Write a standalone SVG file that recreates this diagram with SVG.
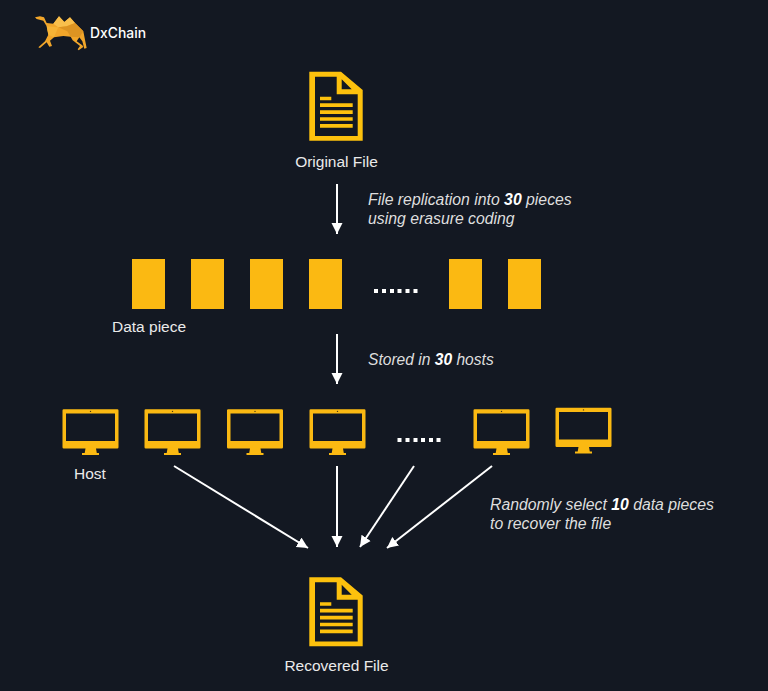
<svg xmlns="http://www.w3.org/2000/svg" width="768" height="691" viewBox="0 0 768 691">
<style>
text{font-family:"Liberation Sans",Arial,sans-serif;fill:#eaeaea;font-size:15.500px}
.note{font-style:italic;font-size:15.800px;fill:#dedede}
.note tspan.b{font-weight:bold;fill:#fff}
.piece{fill:#fbb912}
.conn{stroke:#fff;stroke-width:2;fill:none;marker-end:url(#head)}
.dots{fill:#fff}
</style>
<defs>
<marker id="head" markerUnits="userSpaceOnUse" markerWidth="13" markerHeight="13" refX="11" refY="6" orient="auto">
<path d="M0 0.500L11 6L0 11.500Z" fill="#fff"/>
</marker>
<g id="doc">
<path fill-rule="evenodd" fill="#fdc10d" d="M309.300 71.700H341L362.700 90V140.700H309.300ZM315 76.700V136H357.700V94.300H336.700V76.700ZM341.700 79.300V89.300H351.700Z"/>
<path fill="#fdc10d" d="M320 96.700h11.300v3.600h-11.300zM320 103.300h32.700v3.800h-32.700zM320 110.300h32.700v3.700h-32.700zM320 117.300h32.700v3.500h-32.700zM320 124h32.700v3.700h-32.700z"/>
</g>
<g id="monitor">
<path fill-rule="evenodd" fill="#fbb912" d="M63.700 409.300H117.300Q118.500 409.300 118.500 410.500V447.300Q118.500 448.500 117.300 448.500H96L96.800 453H99V455H82V453H84.700L85.500 448.500H63.700Q62.500 448.500 62.500 447.300V410.500Q62.500 409.300 63.700 409.300ZM66 413.500V441H115V413.500Z"/>
<circle cx="90.500" cy="411.400" r="0.700" fill="#4a3a10"/>
</g>
</defs>
<rect width="768" height="691" fill="#131822"/>

<g id="logo">
<g transform="translate(30 8) scale(.3333)">
<path d="M15 28L30 25L42 28L50 45L70 47L87 25L103 42L120 28L135 45L160 70L165 95L170 120L163 122L157 100L148 88L140 100L157 112L160 117L146 127L143 124L150 114L128 97L122 86L100 84L72 88L60 98L66 114L58 116L50 103L30 120L25 118L45 100L55 80L50 55L40 38L20 33Z" fill="#f2a62a"/>
<path d="M70 47L87 25L103 42L120 28L135 45L110 55L85 58Z" fill="#f9bf4c"/>
<path d="M85 58L110 55L135 45L160 70L148 88L122 86L112 70Z" fill="#dd9422"/>
<path d="M50 55L85 58L72 88L55 80Z" fill="#f7b436"/>
</g>
<text x="90" y="38" textLength="56" lengthAdjust="spacingAndGlyphs" style="font-size:14px;font-family:Inter,sans-serif;font-weight:500;fill:#fff">DxChain</text>
</g>

<g id="original-file">
<use href="#doc"/>
<text x="336.500" y="167" text-anchor="middle">Original File</text>
</g>

<g id="data-pieces">
<rect class="piece" x="132" y="259" width="33" height="50"/>
<rect class="piece" x="191" y="259" width="33" height="50"/>
<rect class="piece" x="250" y="259" width="33" height="50"/>
<rect class="piece" x="309" y="259" width="33" height="50"/>
<rect class="piece" x="449" y="259" width="33" height="50"/>
<rect class="piece" x="508" y="259" width="33" height="50"/>
<path class="dots" d="M374 289h4v4h-4zM382 289h4v4h-4zM390 289h4v4h-4zM397.500 289h4v4h-4zM405.500 289h4v4h-4zM413.500 289h4v4h-4z"/>
<text x="112" y="332">Data piece</text>
</g>

<g id="hosts">
<use href="#monitor"/>
<use href="#monitor" x="82"/>
<use href="#monitor" x="164.500"/>
<use href="#monitor" x="247"/>
<use href="#monitor" x="411"/>
<use href="#monitor" x="493" y="-1.500"/>
<path class="dots" d="M397.500 438h4v4h-4zM405.500 438h4v4h-4zM413.500 438h4v4h-4zM421 438h4v4h-4zM429 438h4v4h-4zM436.500 438h4v4h-4z"/>
<text x="74" y="479">Host</text>
</g>

<g id="connectors">
<line class="conn" x1="337" y1="184" x2="337" y2="234"/>
<line class="conn" x1="337" y1="334" x2="337" y2="384"/>
<line class="conn" x1="174" y1="466" x2="308" y2="548"/>
<line class="conn" x1="337" y1="466" x2="337" y2="547"/>
<line class="conn" x1="414" y1="466" x2="360" y2="547"/>
<line class="conn" x1="492" y1="466" x2="387" y2="548"/>
</g>

<g id="labels">
<text class="note" x="368" y="205">File replication into <tspan class="b">30</tspan> pieces</text>
<text class="note" x="368" y="224">using erasure coding</text>
<text class="note" x="368" y="365" style="font-size:15.600px">Stored in <tspan class="b">30</tspan> hosts</text>
<text class="note" x="490" y="510">Randomly select <tspan class="b">10</tspan> data pieces</text>
<text class="note" x="490" y="529">to recover the file</text>
</g>

<g id="recovered-file">
<use href="#doc" y="505.500"/>
<text x="336.500" y="671" text-anchor="middle">Recovered File</text>
</g>
</svg>
